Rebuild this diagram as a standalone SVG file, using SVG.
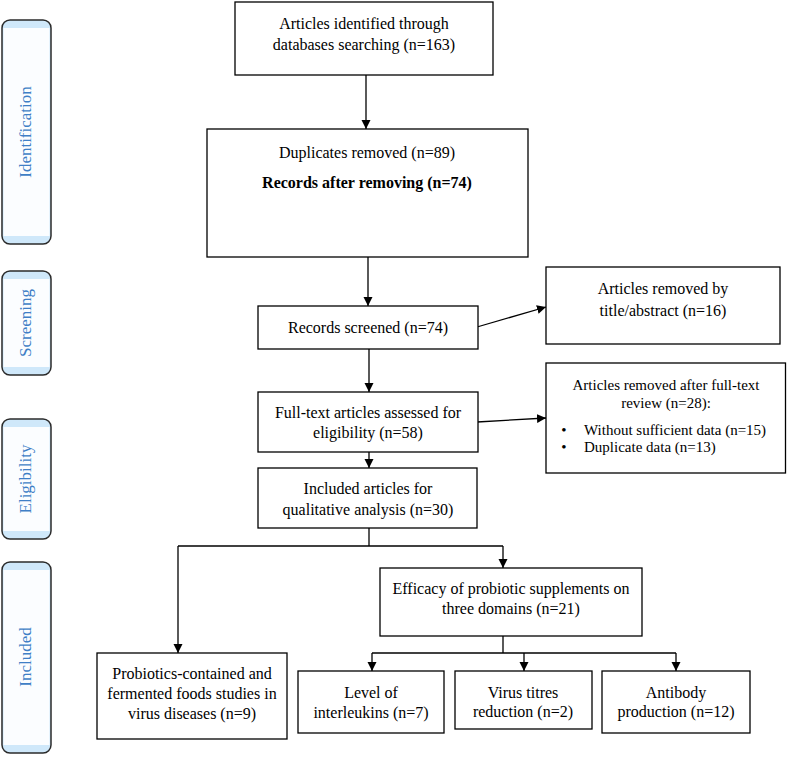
<svg xmlns="http://www.w3.org/2000/svg" width="787" height="758" viewBox="0 0 787 758">
<style>
.box{fill:#fff;stroke:#000;stroke-width:1.3}
.t{font-family:"Liberation Serif","Times New Roman",serif;font-size:16px;fill:#000;text-anchor:middle}
.s{font-size:15px}
.st{text-anchor:start}
.b{font-weight:bold}
.tab{fill:#cfe8fa;stroke:none}
.tabin{fill:#fbfdff}
.tabo{fill:none;stroke:#2b2b2b;stroke-width:1.5}
.tl{font-family:"Liberation Serif","Times New Roman",serif;font-size:17px;fill:#3f7fc6;text-anchor:middle}
.c{fill:none;stroke:#000;stroke-width:1.3}
</style>
<defs>
<marker id="ah" markerUnits="userSpaceOnUse" markerWidth="10" markerHeight="10" refX="9" refY="5" orient="auto">
<path d="M0,0.5 L9,5 L0,9.5 Z" fill="#000"/>
</marker>
</defs>
<rect width="787" height="758" fill="#fff"/>

<g id="tab-identification">
<rect class="tab" x="2" y="20" width="49" height="224" rx="8"/>
<rect class="tabin" x="3.5" y="28" width="46" height="208"/>
<rect class="tabo" x="2" y="20" width="49" height="224" rx="8"/>
<text class="tl" transform="translate(31,132) rotate(-90)">Identification</text>
</g>
<g id="tab-screening">
<rect class="tab" x="2" y="271" width="49" height="104" rx="8"/>
<rect class="tabin" x="3.5" y="279" width="46" height="88"/>
<rect class="tabo" x="2" y="271" width="49" height="104" rx="8"/>
<text class="tl" transform="translate(31,323) rotate(-90)">Screening</text>
</g>
<g id="tab-eligibility">
<rect class="tab" x="2" y="419" width="49" height="120" rx="8"/>
<rect class="tabin" x="3.5" y="427" width="46" height="104"/>
<rect class="tabo" x="2" y="419" width="49" height="120" rx="8"/>
<text class="tl" transform="translate(31,479) rotate(-90)">Eligibility</text>
</g>
<g id="tab-included">
<rect class="tab" x="2" y="562" width="49" height="191" rx="8"/>
<rect class="tabin" x="3.5" y="570" width="46" height="175"/>
<rect class="tabo" x="2" y="562" width="49" height="191" rx="8"/>
<text class="tl" transform="translate(31,657) rotate(-90)">Included</text>
</g>

<g id="connectors">
<line class="c" x1="366" y1="75" x2="366" y2="129" marker-end="url(#ah)"/>
<line class="c" x1="368" y1="257" x2="368" y2="306" marker-end="url(#ah)"/>
<line class="c" x1="369" y1="349" x2="369" y2="392" marker-end="url(#ah)"/>
<line class="c" x1="477" y1="327" x2="546" y2="307" marker-end="url(#ah)"/>
<line class="c" x1="477" y1="422" x2="546" y2="418" marker-end="url(#ah)"/>
<line class="c" x1="369" y1="452" x2="369" y2="468" marker-end="url(#ah)"/>
<line class="c" x1="369" y1="528" x2="369" y2="546"/>
<polyline class="c" points="178,546 503,546"/>
<line class="c" x1="178" y1="546" x2="178" y2="653" marker-end="url(#ah)"/>
<line class="c" x1="503" y1="546" x2="503" y2="568" marker-end="url(#ah)"/>
<line class="c" x1="503" y1="636" x2="503" y2="653"/>
<polyline class="c" points="372,653 676,653"/>
<line class="c" x1="372" y1="653" x2="372" y2="671" marker-end="url(#ah)"/>
<line class="c" x1="524" y1="653" x2="524" y2="671" marker-end="url(#ah)"/>
<line class="c" x1="676" y1="653" x2="676" y2="671" marker-end="url(#ah)"/>
</g>

<g id="n-identified">
<rect class="box" x="235" y="2" width="258" height="73"/>
<text class="t" x="364" y="29">Articles identified through</text>
<text class="t" x="364" y="50">databases searching (n=163)</text>
</g>
<g id="n-duplicates">
<rect class="box" x="207" y="129" width="321" height="128"/>
<text class="t" x="367" y="158">Duplicates removed (n=89)</text>
<text class="t b" x="367" y="188">Records after removing (n=74)</text>
</g>
<g id="n-screened">
<rect class="box" x="258" y="306" width="220" height="43"/>
<text class="t" x="368" y="333">Records screened (n=74)</text>
</g>
<g id="n-removed-title">
<rect class="box" x="546" y="267" width="234" height="77"/>
<text class="t" x="663" y="294">Articles removed by</text>
<text class="t" x="663" y="316">title/abstract (n=16)</text>
</g>
<g id="n-fulltext">
<rect class="box" x="258" y="392" width="220" height="60"/>
<text class="t" x="368" y="418">Full-text articles assessed for</text>
<text class="t" x="368" y="438">eligibility (n=58)</text>
</g>
<g id="n-removed-fulltext">
<rect class="box" x="546" y="363" width="239.5" height="110"/>
<text class="t s" x="666" y="390">Articles removed after full-text</text>
<text class="t s" x="666" y="408">review (n=28):</text>
<text class="t s" x="564" y="435">•</text>
<text class="t s st" x="584" y="435">Without sufficient data (n=15)</text>
<text class="t s" x="564" y="452">•</text>
<text class="t s st" x="584" y="452">Duplicate data (n=13)</text>
</g>
<g id="n-included">
<rect class="box" x="258" y="468" width="219" height="60"/>
<text class="t" x="368" y="494">Included articles for</text>
<text class="t" x="368" y="515">qualitative analysis (n=30)</text>
</g>
<g id="n-foods">
<rect class="box" x="97" y="653" width="190" height="86"/>
<text class="t" x="192" y="679">Probiotics-contained and</text>
<text class="t" x="192" y="699">fermented foods studies in</text>
<text class="t" x="192" y="719">virus diseases (n=9)</text>
</g>
<g id="n-efficacy">
<rect class="box" x="380" y="568" width="262" height="68"/>
<text class="t" x="511" y="594">Efficacy of probiotic supplements on</text>
<text class="t" x="511" y="614">three domains (n=21)</text>
</g>
<g id="n-interleukins">
<rect class="box" x="298" y="671" width="146" height="62"/>
<text class="t" x="371" y="698">Level of</text>
<text class="t" x="371" y="718">interleukins (n=7)</text>
</g>
<g id="n-virus">
<rect class="box" x="455" y="671" width="137" height="58"/>
<text class="t" x="523" y="698">Virus titres</text>
<text class="t" x="523" y="717">reduction (n=2)</text>
</g>
<g id="n-antibody">
<rect class="box" x="602" y="671" width="148" height="62"/>
<text class="t" x="676" y="698">Antibody</text>
<text class="t" x="676" y="717">production (n=12)</text>
</g>
</svg>
